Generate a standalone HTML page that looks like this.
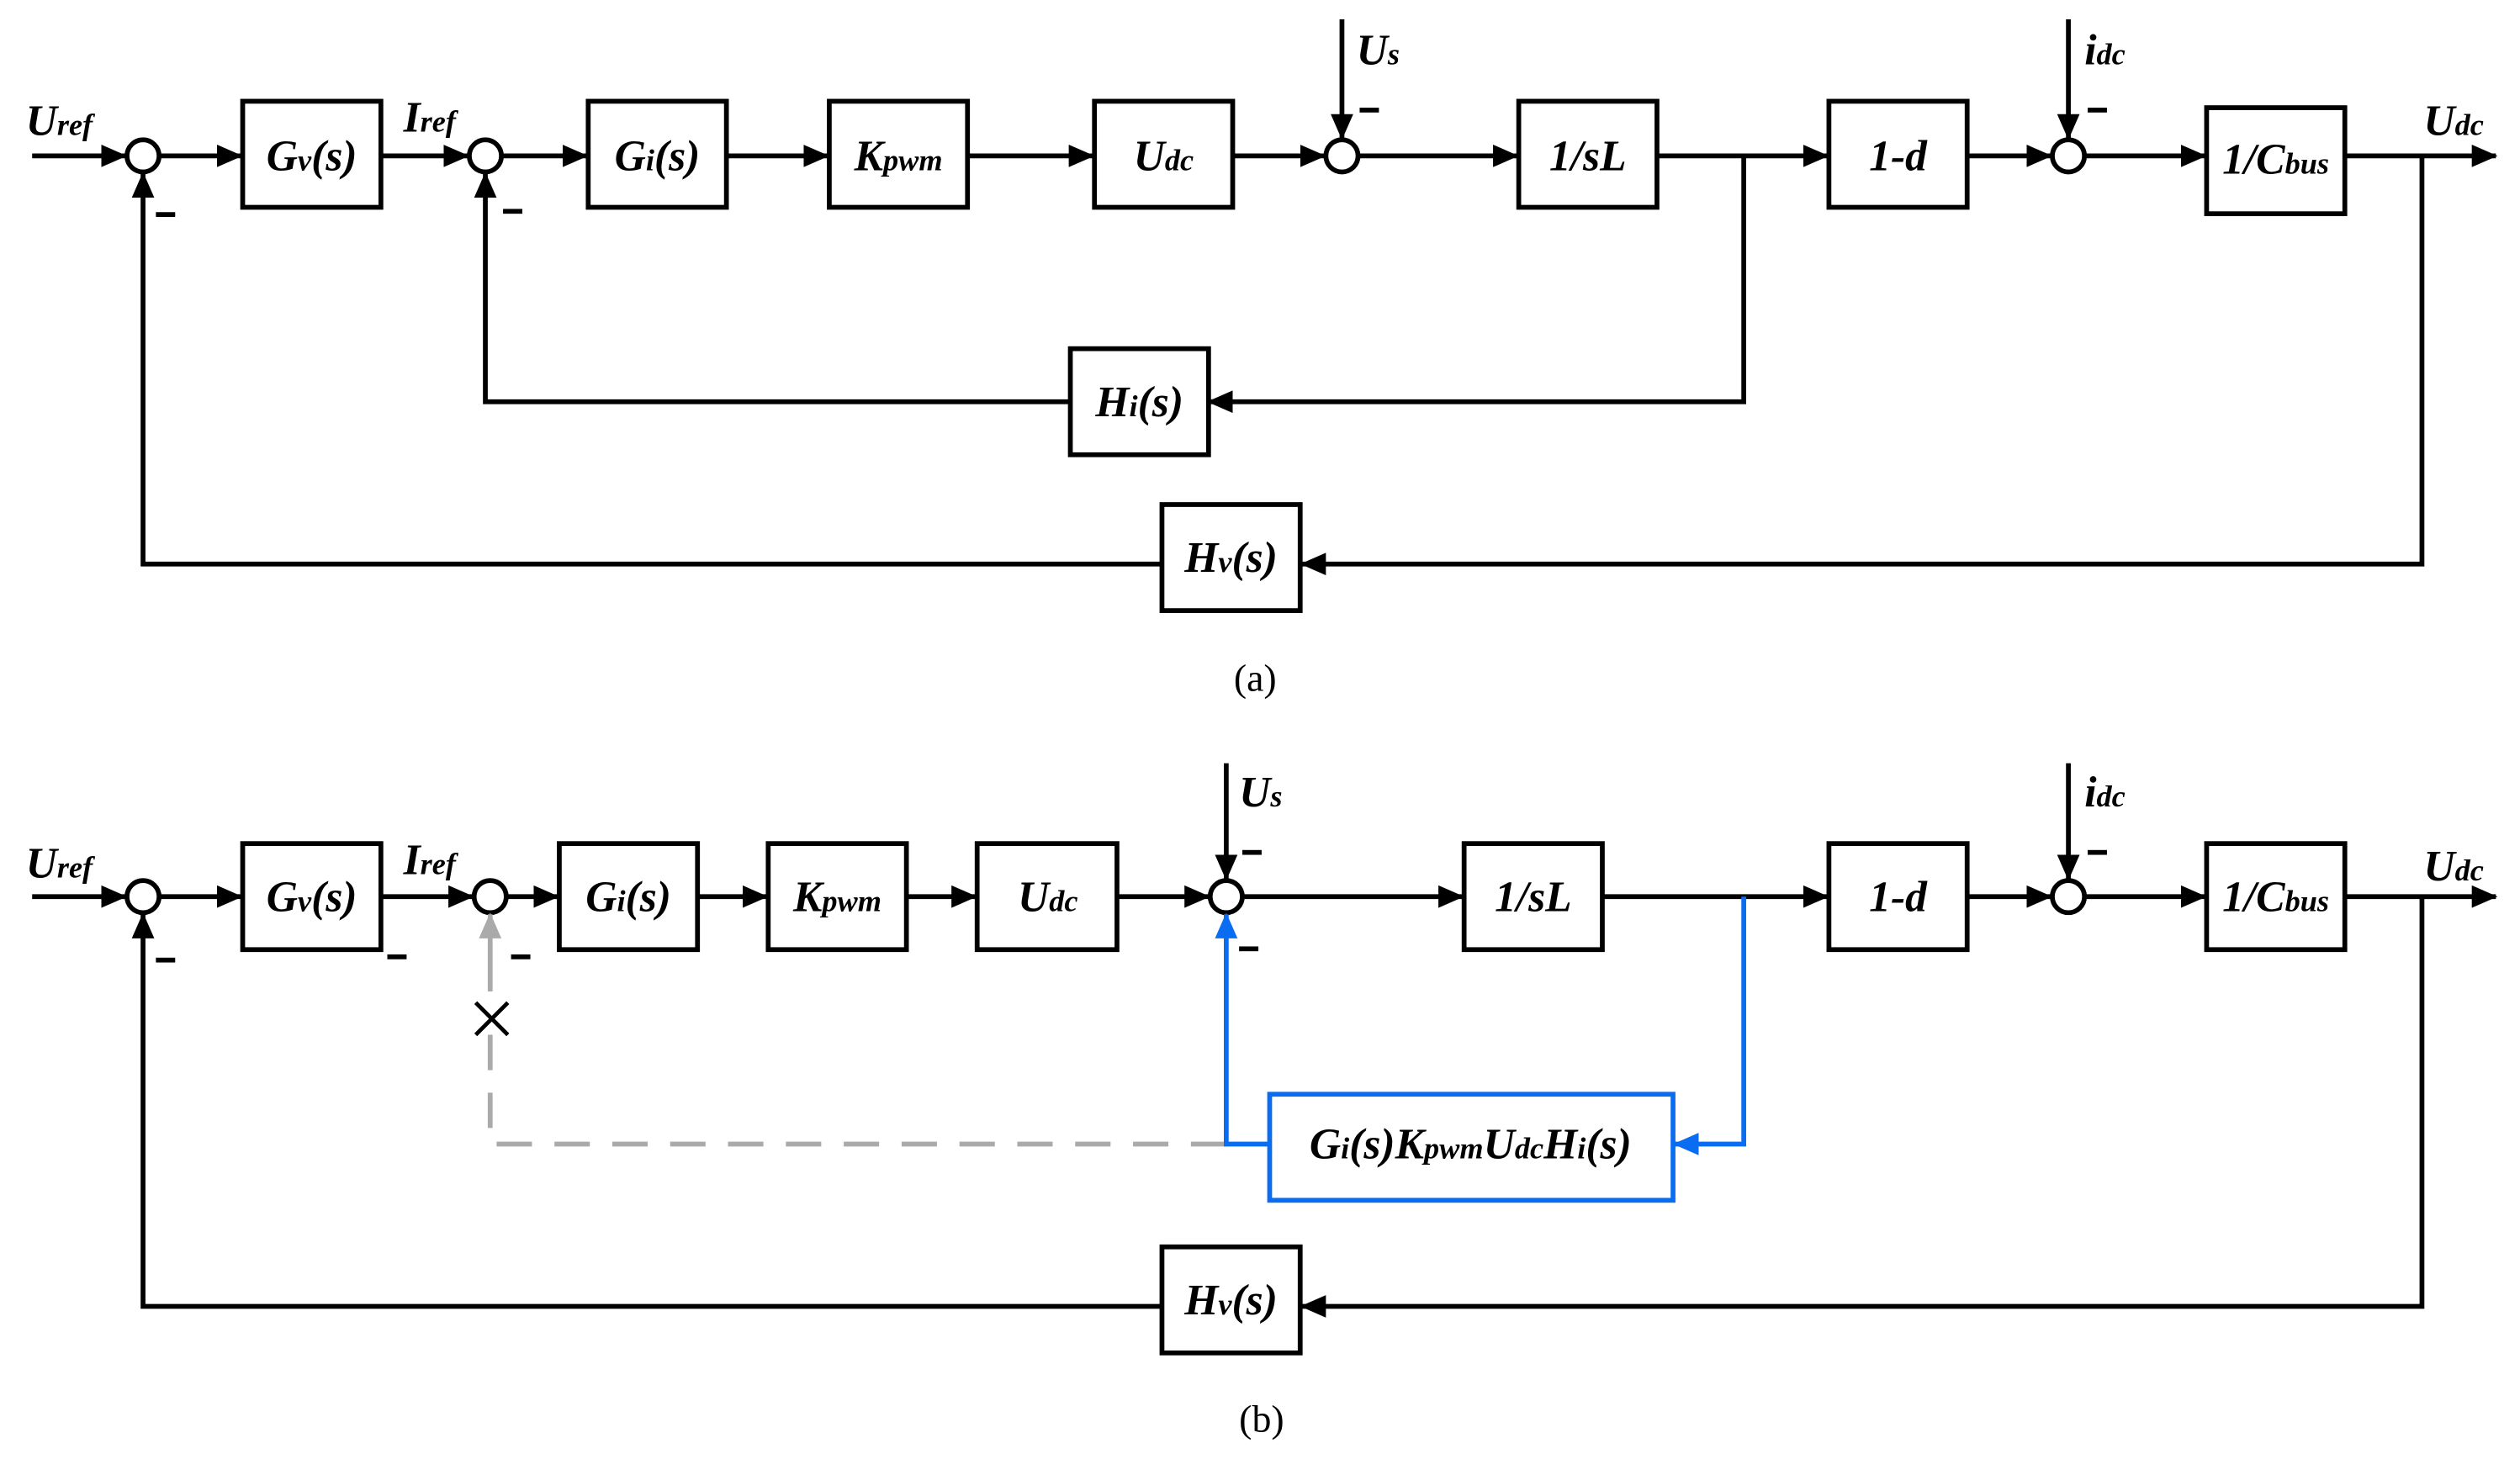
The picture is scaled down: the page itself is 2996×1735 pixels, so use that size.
<!DOCTYPE html>
<html><head><meta charset="utf-8"><style>
html,body{margin:0;padding:0;background:#fff}
svg{display:block}
text{font-family:"Liberation Serif","Times New Roman",serif;font-weight:bold;font-style:italic;font-size:27px}
.n{font-style:normal;font-weight:normal;font-size:24px}
</style></head><body>
<svg width="2996" height="1735" viewBox="0 0 1568 908" xmlns="http://www.w3.org/2000/svg" font-family="Liberation Serif, serif">
<defs>
<marker id="ab" markerWidth="16" markerHeight="14" refX="15" refY="7" orient="auto" markerUnits="userSpaceOnUse"><path d="M0,0L16,7L0,14z" fill="#000"/></marker>
<marker id="bb" markerWidth="16" markerHeight="14" refX="15" refY="7" orient="auto" markerUnits="userSpaceOnUse"><path d="M0,0L16,7L0,14z" fill="#0a6cf0"/></marker>
<marker id="gb" markerWidth="16" markerHeight="14" refX="15" refY="7" orient="auto" markerUnits="userSpaceOnUse"><path d="M0,0L16,7L0,14z" fill="#aaa"/></marker>
</defs>
<g fill="none" stroke="#000" stroke-width="3">
<path d="M20,97H78" marker-end="url(#ab)"/>
<circle cx="89" cy="97" r="10"/>
<path d="M99,97H150" marker-end="url(#ab)"/>
<rect x="151" y="63" width="86" height="66"/>
<path d="M237,97H291" marker-end="url(#ab)"/>
<circle cx="302" cy="97" r="10"/>
<path d="M312,97H365" marker-end="url(#ab)"/>
<rect x="366" y="63" width="86" height="66"/>
<path d="M452,97H515" marker-end="url(#ab)"/>
<rect x="516" y="63" width="86" height="66"/>
<path d="M602,97H680" marker-end="url(#ab)"/>
<rect x="681" y="63" width="86" height="66"/>
<path d="M767,97H824" marker-end="url(#ab)"/>
<circle cx="835" cy="97" r="10"/>
<path d="M835,12V86" marker-end="url(#ab)"/>
<path d="M845,97H944" marker-end="url(#ab)"/>
<rect x="945" y="63" width="86" height="66"/>
<path d="M1031,97H1137" marker-end="url(#ab)"/>
<rect x="1138" y="63" width="86" height="66"/>
<path d="M1224,97H1276" marker-end="url(#ab)"/>
<circle cx="1287" cy="97" r="10"/>
<path d="M1287,12V86" marker-end="url(#ab)"/>
<path d="M1297,97H1372" marker-end="url(#ab)"/>
<rect x="1373" y="67" width="86" height="66"/>
<path d="M1459,97H1553" marker-end="url(#ab)"/>
<path d="M1085,97V250H752" marker-end="url(#ab)"/>
<rect x="666" y="217" width="86" height="66"/>
<path d="M666,250H302V108" marker-end="url(#ab)"/>
<path d="M1507,97V351H810" marker-end="url(#ab)"/>
<rect x="723" y="314" width="86" height="66"/>
<path d="M723,351H89V108" marker-end="url(#ab)"/>
<path d="M20,558H78" marker-end="url(#ab)"/>
<circle cx="89" cy="558" r="10"/>
<path d="M99,558H150" marker-end="url(#ab)"/>
<rect x="151" y="525" width="86" height="66"/>
<path d="M237,558H294" marker-end="url(#ab)"/>
<circle cx="305" cy="558" r="10"/>
<path d="M315,558H347" marker-end="url(#ab)"/>
<rect x="348" y="525" width="86" height="66"/>
<path d="M434,558H477" marker-end="url(#ab)"/>
<rect x="478" y="525" width="86" height="66"/>
<path d="M564,558H607" marker-end="url(#ab)"/>
<rect x="608" y="525" width="87" height="66"/>
<path d="M695,558H752" marker-end="url(#ab)"/>
<circle cx="763" cy="558" r="10"/>
<path d="M763,475V547" marker-end="url(#ab)"/>
<path d="M773,558H910" marker-end="url(#ab)"/>
<rect x="911" y="525" width="86" height="66"/>
<path d="M997,558H1137" marker-end="url(#ab)"/>
<rect x="1138" y="525" width="86" height="66"/>
<path d="M1224,558H1276" marker-end="url(#ab)"/>
<circle cx="1287" cy="558" r="10"/>
<path d="M1287,475V547" marker-end="url(#ab)"/>
<path d="M1297,558H1372" marker-end="url(#ab)"/>
<rect x="1373" y="525" width="86" height="66"/>
<path d="M1459,558H1553" marker-end="url(#ab)"/>
<path d="M1507,558V813H810" marker-end="url(#ab)"/>
<rect x="723" y="776" width="86" height="66"/>
<path d="M723,813H89V569" marker-end="url(#ab)"/>
</g>
<g fill="none" stroke="#aaa" stroke-width="3">
<path d="M763,712H305V640" stroke-dasharray="22,14"/>
<path d="M305,617V569" marker-end="url(#gb)"/>
</g>
<path d="M296,624L316,644M316,624L296,644" stroke="#000" stroke-width="2.5"/>
<g fill="none" stroke="#0a6cf0" stroke-width="3">
<path d="M1085,558V712H1042" marker-end="url(#bb)"/>
<rect x="790" y="681" width="251" height="66"/>
<path d="M790,712H763V569" marker-end="url(#bb)"/>
</g>
<g fill="#000">
<rect x="97" y="132" width="12" height="3"/>
<rect x="313" y="130" width="12" height="3"/>
<rect x="846" y="67" width="12" height="3"/>
<rect x="1299" y="67" width="12" height="3"/>
<rect x="97" y="596" width="12" height="3"/>
<rect x="241" y="594" width="12" height="3"/>
<rect x="318" y="594" width="12" height="3"/>
<rect x="773" y="529" width="12" height="3"/>
<rect x="771" y="589" width="12" height="3"/>
<rect x="1299" y="529" width="12" height="3"/>
</g>
<g text-anchor="middle">
<text x="194" y="106">G<tspan font-size="19">v</tspan>(s)</text>
<text x="409" y="106">G<tspan font-size="19">i</tspan>(s)</text>
<text x="559" y="106">K<tspan font-size="19">pwm</tspan></text>
<text x="724" y="106">U<tspan font-size="19">dc</tspan></text>
<text x="988" y="106">1/sL</text>
<text x="1181" y="106">1-d</text>
<text x="1416" y="108">1/C<tspan font-size="19">bus</tspan></text>
<text x="709" y="259">H<tspan font-size="19">i</tspan>(s)</text>
<text x="766" y="356">H<tspan font-size="19">v</tspan>(s)</text>
<text x="194" y="567">G<tspan font-size="19">v</tspan>(s)</text>
<text x="391" y="567">G<tspan font-size="19">i</tspan>(s)</text>
<text x="521" y="567">K<tspan font-size="19">pwm</tspan></text>
<text x="652" y="567">U<tspan font-size="19">dc</tspan></text>
<text x="954" y="567">1/sL</text>
<text x="1181" y="567">1-d</text>
<text x="1416" y="567">1/C<tspan font-size="19">bus</tspan></text>
<text x="915" y="721">G<tspan font-size="19">i</tspan>(s)K<tspan font-size="19">pwm</tspan>U<tspan font-size="19">dc</tspan>H<tspan font-size="19">i</tspan>(s)</text>
<text x="766" y="818">H<tspan font-size="19">v</tspan>(s)</text>
<text class="n" x="781" y="430">(a)</text>
<text class="n" x="785" y="891">(b)</text>
</g>
<g>
<text x="16" y="84">U<tspan font-size="19">ref</tspan></text>
<text x="251" y="82">I<tspan font-size="19">ref</tspan></text>
<text x="844" y="40">U<tspan font-size="19">s</tspan></text>
<text x="1297" y="40" font-size="24">i<tspan font-size="19">dc</tspan></text>
<text x="1508" y="84">U<tspan font-size="19">dc</tspan></text>
<text x="16" y="546">U<tspan font-size="19">ref</tspan></text>
<text x="251" y="544">I<tspan font-size="19">ref</tspan></text>
<text x="771" y="502">U<tspan font-size="19">s</tspan></text>
<text x="1297" y="502" font-size="24">i<tspan font-size="19">dc</tspan></text>
<text x="1508" y="548">U<tspan font-size="19">dc</tspan></text>
</g>
</svg>
</body></html>
